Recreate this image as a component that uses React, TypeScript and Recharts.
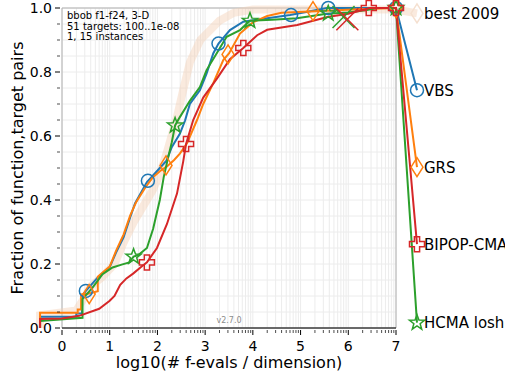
import { CartesianGrid, ComposedChart, Line, Scatter, XAxis, YAxis } from "recharts";

const W = 505;
const H = 379;
const FONT = "'DejaVu Sans', sans-serif";

const BLUE = "#1f77b4";
const ORANGE = "#ff7f0e";
const GREEN = "#2ca02c";
const RED = "#d62728";
const PEACH = "#f3d0b6";

// x: log10(# f-evals / dimension), y: fraction of (function, target) pairs
const bestX = [-0.46, -0.46, 0.3, 0.45, 0.6, 0.85, 1.1, 1.3, 1.5, 1.7, 1.9, 2.05, 2.2, 2.41, 2.55, 2.68, 2.9, 3.3, 3.6, 4.0, 7, 7.44];
const bestY = [0, 0.04, 0.055, 0.09, 0.13, 0.16, 0.2, 0.27, 0.33, 0.38, 0.43, 0.48, 0.55, 0.66, 0.75, 0.83, 0.9, 0.96, 0.985, 0.995, 0.995, 0.983];

const vbsX = [-0.46, -0.46, 0.3, 0.3, 0.42, 0.42, 0.5, 0.75, 1.0, 1.13, 1.29, 1.43, 1.53, 1.78, 2.05, 2.19, 2.3, 2.47, 2.58, 2.68, 2.89, 3.03, 3.17, 3.28, 3.52, 3.8, 4.3, 4.78, 5.2, 5.55, 7, 7.44];
const vbsY = [0, 0.035, 0.035, 0.045, 0.045, 0.1, 0.116, 0.158, 0.19, 0.235, 0.283, 0.346, 0.389, 0.456, 0.5, 0.523, 0.565, 0.607, 0.649, 0.7, 0.743, 0.795, 0.858, 0.889, 0.931, 0.957, 0.968, 0.978, 0.99, 1.0, 1.0, 0.743];

const grsX = [-0.46, -0.46, 0.33, 0.33, 0.4, 0.4, 0.57, 0.75, 0.75, 0.9, 1.0, 1.13, 1.29, 1.43, 1.55, 1.75, 1.9, 2.05, 2.2, 2.35, 2.47, 2.62, 2.83, 2.96, 3.17, 3.38, 3.5, 3.73, 4.0, 4.3, 4.6, 5.3, 6.2, 7, 7.44];
const grsY = [0, 0.048, 0.048, 0.058, 0.058, 0.105, 0.108, 0.115, 0.16, 0.18, 0.192, 0.24, 0.292, 0.352, 0.392, 0.44, 0.47, 0.49, 0.505, 0.525, 0.545, 0.577, 0.65, 0.7, 0.765, 0.837, 0.858, 0.92, 0.955, 0.975, 0.985, 0.99, 0.996, 1.0, 0.5025];

const bipopX = [-0.46, -0.46, 0.0, 0.36, 0.78, 1.0, 1.1, 1.22, 1.35, 1.49, 1.65, 1.78, 1.99, 2.2, 2.41, 2.54, 2.6, 2.75, 2.96, 3.25, 3.52, 3.8, 4.09, 4.3, 4.93, 5.56, 6.0, 6.3, 6.45, 7, 7.44];
const bipopY = [0, 0.028, 0.03, 0.038, 0.06, 0.085, 0.1, 0.135, 0.155, 0.17, 0.19, 0.205, 0.25, 0.325, 0.42, 0.52, 0.575, 0.65, 0.72, 0.78, 0.84, 0.875, 0.915, 0.932, 0.947, 0.972, 0.982, 0.994, 1.0, 1.0, 0.262];

const hcmaX = [-0.46, -0.46, 0.43, 0.43, 0.64, 0.85, 1.06, 1.25, 1.41, 1.5, 1.6, 1.78, 1.91, 2.05, 2.13, 2.22, 2.3, 2.37, 2.47, 2.68, 2.89, 3.03, 3.24, 3.45, 3.73, 3.94, 4.4, 4.92, 5.55, 6.0, 6.39, 6.6, 7, 7.44];
const hcmaY = [0, 0.022, 0.032, 0.09, 0.126, 0.168, 0.189, 0.198, 0.205, 0.223, 0.228, 0.25, 0.31, 0.4, 0.47, 0.53, 0.58, 0.633, 0.659, 0.71, 0.753, 0.806, 0.858, 0.91, 0.931, 0.96, 0.963, 0.968, 0.982, 0.986, 0.994, 1.0, 1.0, 0.0166];

// markers along the curves (last one sits next to the name)
const vbsMarkX = [0.5, 1.8, 3.28, 4.8, 5.58, 7, 7.44];
const vbsMarkY = [0.116, 0.46, 0.889, 0.978, 1.0, 1.0, 0.743];
const grsMarkX = [0.57, 2.18, 3.48, 5.26, 7, 7.44];
const grsMarkY = [0.106, 0.508, 0.855, 0.99, 1.0, 0.5025];
const bipopMarkX = [1.78, 2.6, 3.8, 6.43, 7, 7.44];
const bipopMarkY = [0.205, 0.575, 0.875, 1.0, 1.0, 0.262];
const hcmaMarkX = [1.5, 2.37, 3.94, 5.58, 7, 7.44];
const hcmaMarkY = [0.223, 0.633, 0.96, 0.983, 1.0, 0.0166];
const bestMarkX = [7.44];
const bestMarkY = [0.983];

// max-evals crosses
const bipopCrossX = [5.98];
const bipopCrossY = [0.965];
const hcmaCrossX = [5.9];
const hcmaCrossY = [0.972];

const names = ["best 2009", "VBS", "GRS", "BIPOP-CMA", "HCMA losh"];
const nameX = [7.44, 7.44, 7.44, 7.44, 7.44];
const nameY = [0.983, 0.743, 0.5025, 0.262, 0.0166];

const xMajor = [0, 1, 2, 3, 4, 5, 6, 7];
const xTicks = [
  ...xMajor,
  ...[0, 1, 2, 3, 4, 5, 6].flatMap((d) => [2, 3, 4, 5, 6, 7, 8, 9].map((k) => d + Math.log10(k))),
].sort((a, b) => a - b);
const yMajor = [0, 0.2, 0.4, 0.6, 0.8, 1.0];
const yTicks = Array.from({ length: 21 }, (_, i) => i * 0.05);

const pts = (xs: number[], ys: number[]) => xs.map((x, i) => ({ x, y: ys[i] }));
const isMajor = (v: number, step: number) => Math.abs(v / step - Math.round(v / step)) < 1e-6;

const XTick = ({ x, y, payload }: any) => {
  const major = isMajor(payload.value, 1);
  return (
    <g>
      <line x1={x} x2={x} y1={y} y2={y + (major ? 5 : 3)} stroke="#000" strokeWidth={major ? 1 : 0.7} />
      {major && (
        <text x={x} y={y + 21} textAnchor="middle" fontSize={14} fill="#000">
          {Math.round(payload.value)}
        </text>
      )}
    </g>
  );
};

const YTick = ({ x, y, payload }: any) => {
  const major = isMajor(payload.value, 0.2);
  return (
    <g>
      <line x1={x} x2={x - (major ? 5 : 3)} y1={y} y2={y} stroke="#000" strokeWidth={major ? 1 : 0.7} />
      {major && (
        <text x={x - 8} y={y + 5} textAnchor="end" fontSize={14} fill="#000">
          {payload.value.toFixed(1)}
        </text>
      )}
    </g>
  );
};

const Marker = ({ kind, cx, cy, color }: { kind: string; cx: number; cy: number; color: string }) => {
  const common = { fill: "none", stroke: color, strokeWidth: 1.5 };
  if (kind === "circle") return <circle cx={cx} cy={cy} r={6.5} {...common} />;
  if (kind === "diamond") {
    const w = 6, h = 9.5;
    return <polygon points={`${cx},${cy - h} ${cx + w},${cy} ${cx},${cy + h} ${cx - w},${cy}`} {...common} />;
  }
  if (kind === "plus") {
    const s = 7.5, a = 2.6;
    const p = [[-a, -s], [a, -s], [a, -a], [s, -a], [s, a], [a, a], [a, s], [-a, s], [-a, a], [-s, a], [-s, -a], [-a, -a]];
    return <polygon points={p.map(([dx, dy]) => `${cx + dx},${cy + dy}`).join(" ")} {...common} />;
  }
  if (kind === "star") {
    const R = 8, r = 3.3;
    const p = Array.from({ length: 10 }, (_, i) => {
      const ang = -Math.PI / 2 + (i * Math.PI) / 5;
      const rad = i % 2 === 0 ? R : r;
      return `${cx + rad * Math.cos(ang)},${cy + rad * Math.sin(ang)}`;
    });
    return <polygon points={p.join(" ")} {...common} />;
  }
  // cross
  const s = 11;
  return (
    <g stroke={color} strokeWidth={1.5}>
      <line x1={cx - s} y1={cy - s} x2={cx + s} y2={cy + s} />
      <line x1={cx - s} y1={cy + s} x2={cx + s} y2={cy - s} />
    </g>
  );
};

const shapeOf = (kind: string, color: string) => (p: any) => <Marker kind={kind} cx={p.cx} cy={p.cy} color={color} />;

const NameShape = (p: any) => (
  <text x={p.cx + 7} y={p.cy + 5.5} fontSize={15} fill="#000">
    {p.payload.name}
  </text>
);

const lineProps = { xAxisId: "x", yAxisId: "y", dataKey: "y", dot: false, activeDot: false, isAnimationActive: false, type: "linear" as const };
const scatterProps = { xAxisId: "x", yAxisId: "y", isAnimationActive: false };

export default function App() {
  return (
    <div style={{ position: "absolute", left: 0, top: 0, width: W, height: H, overflow: "hidden", background: "#fff", fontFamily: FONT }}>
      <style>{".recharts-surface [clip-path]{clip-path:none !important}"}</style>
      <ComposedChart width={W} height={H} margin={{ top: 8, right: 109, bottom: 0, left: 0 }}>
        <XAxis xAxisId="major" type="number" domain={[0, 7]} ticks={xMajor} hide height={0} />
        <YAxis yAxisId="major" type="number" domain={[0, 1]} ticks={yMajor} hide width={0} />
        <XAxis
          xAxisId="x"
          dataKey="x"
          type="number"
          domain={[0, 7]}
          allowDataOverflow
          ticks={xTicks}
          interval={0}
          tick={(p: any) => <XTick {...p} />}
          tickLine={false}
          tickSize={0}
          axisLine={{ stroke: "#000", strokeWidth: 1 }}
          height={51}
          label={{ value: "log10(# f-evals / dimension)", position: "insideBottom", offset: 11, style: { fontSize: 16, fill: "#000" } }}
        />
        <XAxis xAxisId="top" orientation="top" type="number" domain={[0, 7]} height={0} tick={false} axisLine={{ stroke: "#000" }} />
        <YAxis
          yAxisId="y"
          dataKey="y"
          type="number"
          domain={[0, 1]}
          allowDataOverflow
          ticks={yTicks}
          interval={0}
          tick={(p: any) => <YTick {...p} />}
          tickLine={false}
          tickSize={0}
          axisLine={false}
          width={62}
          label={{ value: "Fraction of function,target pairs", angle: -90, position: "insideLeft", offset: 17, style: { fontSize: 16, fill: "#000", textAnchor: "middle" } }}
        />
        <YAxis yAxisId="right" orientation="right" type="number" domain={[0, 1]} width={0} tick={false} axisLine={{ stroke: "#000" }} />

        <CartesianGrid xAxisId="x" yAxisId="y" stroke="#ececec" />
        <CartesianGrid xAxisId="major" yAxisId="major" stroke="#b0b0b0" />

        <text x={67} y={19} fontSize={10} fill="#000">bbob f1-f24, 3-D</text>
        <text x={67} y={29.5} fontSize={10} fill="#000">51 targets: 100..1e-08</text>
        <text x={67} y={40} fontSize={10} fill="#000">1, 15 instances</text>
        <text x={229} y={323} fontSize={8} fill="#8c8c8c" textAnchor="middle">v2.7.0</text>

        <Line {...lineProps} data={pts(bestX, bestY)} stroke={PEACH} strokeOpacity={0.45} strokeWidth={8} />
        <Line {...lineProps} data={pts(vbsX, vbsY)} stroke={BLUE} strokeWidth={2} />
        <Line {...lineProps} data={pts(grsX, grsY)} stroke={ORANGE} strokeWidth={2} />
        <Line {...lineProps} data={pts(hcmaX, hcmaY)} stroke={GREEN} strokeWidth={2} />
        <Line {...lineProps} data={pts(bipopX, bipopY)} stroke={RED} strokeWidth={2} />

        <Scatter {...scatterProps} data={pts(bestMarkX, bestMarkY)} shape={shapeOf("diamond", "#f5e0d0")} />
        <Scatter {...scatterProps} data={pts(vbsMarkX, vbsMarkY)} shape={shapeOf("circle", BLUE)} />
        <Scatter {...scatterProps} data={pts(grsMarkX, grsMarkY)} shape={shapeOf("diamond", ORANGE)} />
        <Scatter {...scatterProps} data={pts(hcmaMarkX, hcmaMarkY)} shape={shapeOf("star", GREEN)} />
        <Scatter {...scatterProps} data={pts(bipopMarkX, bipopMarkY)} shape={shapeOf("plus", RED)} />
        <Scatter {...scatterProps} data={pts(hcmaCrossX, hcmaCrossY)} shape={shapeOf("cross", GREEN)} />
        <Scatter {...scatterProps} data={pts(bipopCrossX, bipopCrossY)} shape={shapeOf("cross", RED)} />
        <Scatter {...scatterProps} data={names.map((name, i) => ({ x: nameX[i], y: nameY[i], name }))} shape={NameShape} />
      </ComposedChart>
    </div>
  );
}
